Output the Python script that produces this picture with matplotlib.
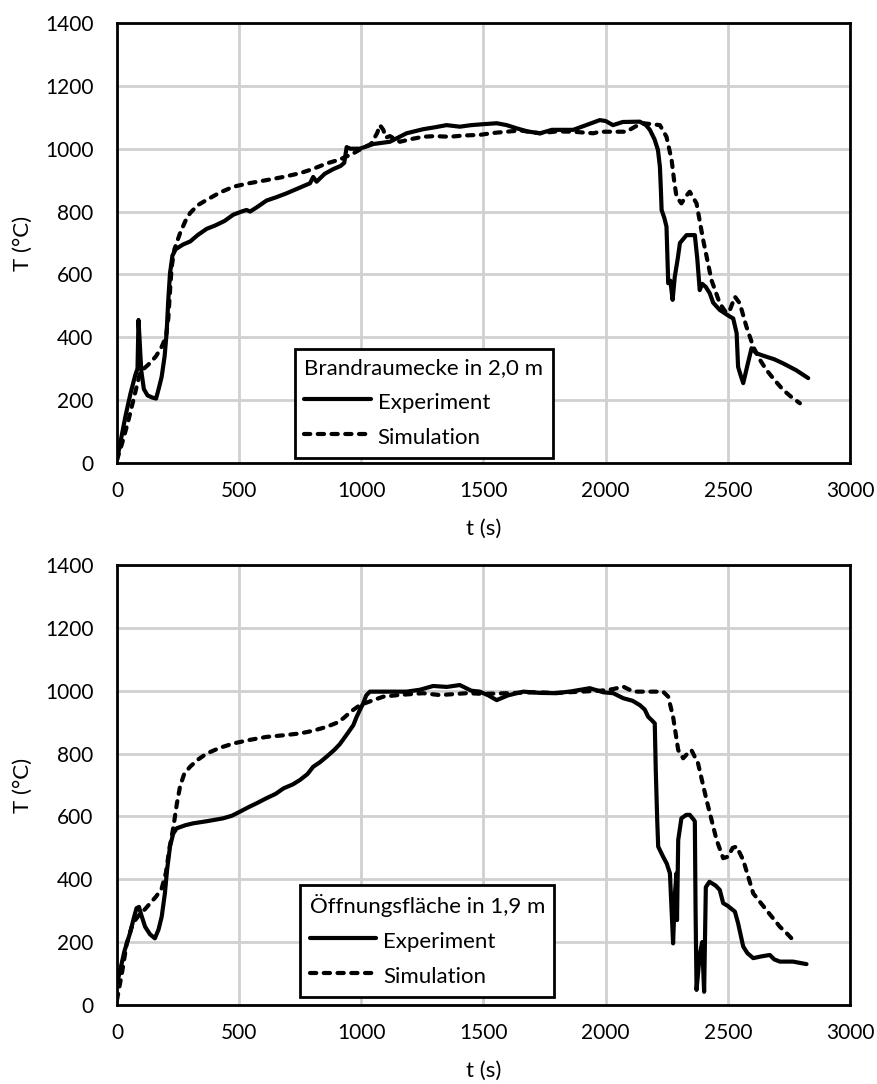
import numpy as np
import matplotlib
matplotlib.use("Agg")
import matplotlib.pyplot as plt

plt.rcParams['font.family'] = ['Lato', 'DejaVu Sans']

# Brandraumecke in 2,0 m - Experiment
t_exp_1 = [0, 15, 35, 55, 75, 84, 88, 92, 96, 100, 110, 125, 145, 160, 172, 183, 195, 203, 210, 217,
           227, 240, 270, 300, 330, 367, 400, 440, 476, 510, 530, 545, 575, 612, 650, 694, 730, 760, 790, 803,
           817, 850, 885, 915, 930, 940, 955, 994, 1050, 1117, 1185, 1253, 1300, 1349, 1403, 1450, 1500, 1554, 1595, 1635,
           1680, 1731, 1780, 1867, 1920, 1976, 2000, 2030, 2070, 2140, 2165, 2181, 2200, 2214, 2222, 2226, 2229, 2240, 2249, 2253,
           2256, 2265, 2274, 2283, 2295, 2304, 2331, 2365, 2375, 2385, 2395, 2410, 2426, 2440, 2467, 2490, 2508, 2522, 2536, 2542,
           2552, 2563, 2580, 2597, 2617, 2650, 2690, 2726, 2780, 2829]
T_exp_1 = [10, 70, 150, 220, 280, 300, 455, 400, 340, 290, 235, 215, 208, 205, 240, 275, 340, 413, 520, 604,
           660, 680, 695, 705, 725, 745, 755, 770, 790, 800, 805, 800, 815, 835, 845, 858, 870, 880, 890, 910,
           895, 920, 935, 945, 955, 1005, 1000, 1000, 1015, 1022, 1049, 1062, 1068, 1075, 1070, 1075, 1078, 1081, 1075, 1065,
           1055, 1049, 1060, 1060, 1075, 1091, 1088, 1075, 1085, 1086, 1075, 1060, 1030, 996, 943, 870, 805, 780, 752, 650,
           572, 580, 519, 593, 650, 700, 725, 725, 650, 550, 570, 560, 540, 510, 487, 475, 466, 460, 413, 306,
           280, 254, 310, 365, 349, 340, 330, 317, 295, 270]

# Brandraumecke in 2,0 m - Simulation
t_sim_1 = [0, 20, 45, 67, 94, 110, 135, 160, 183, 200, 210, 218, 224, 235, 258, 280, 299, 330, 367, 420,
           476, 540, 612, 680, 749, 800, 858, 910, 967, 1000, 1040, 1065, 1076, 1090, 1100, 1117, 1158, 1200, 1253, 1300,
           1362, 1420, 1485, 1540, 1594, 1650, 1731, 1800, 1867, 1949, 1976, 2045, 2085, 2120, 2154, 2222, 2249, 2270, 2280, 2290,
           2310, 2330, 2344, 2372, 2385, 2399, 2433, 2467, 2494, 2510, 2529, 2549, 2576, 2604, 2630, 2658, 2690, 2727, 2760, 2795]
T_sim_1 = [10, 60, 130, 200, 286, 300, 318, 340, 370, 400, 460, 560, 625, 680, 731, 770, 795, 820, 837, 860,
           879, 890, 900, 910, 922, 935, 953, 965, 985, 1000, 1015, 1050, 1075, 1060, 1035, 1040, 1022, 1030, 1038, 1040,
           1038, 1042, 1044, 1050, 1054, 1058, 1049, 1055, 1054, 1049, 1054, 1054, 1054, 1070, 1081, 1075, 1038, 964, 900, 847,
           826, 850, 863, 826, 770, 710, 582, 508, 477, 490, 529, 508, 434, 370, 330, 296, 265, 232, 210, 190]

# Öffnungsfläche in 1,9 m - Experiment
t_exp_2 = [0, 10, 30, 53, 70, 80, 90, 100, 115, 135, 155, 170, 183, 196, 205, 217, 230, 244, 280, 312,
           370, 435, 470, 503, 540, 572, 612, 650, 681, 720, 749, 780, 803, 830, 858, 890, 912, 940, 967, 981,
           995, 1008, 1020, 1035, 1100, 1185, 1240, 1294, 1350, 1403, 1450, 1485, 1520, 1554, 1600, 1663, 1730, 1799, 1860, 1935,
           1990, 2031, 2072, 2110, 2140, 2160, 2174, 2190, 2201, 2205, 2211, 2215, 2235, 2250, 2263, 2270, 2276, 2283, 2290, 2292,
           2297, 2310, 2330, 2344, 2360, 2365, 2368, 2372, 2385, 2395, 2403, 2410, 2425, 2450, 2467, 2481, 2500, 2529, 2542, 2563,
           2580, 2604, 2640, 2672, 2690, 2713, 2767, 2822]
T_exp_2 = [70, 100, 170, 228, 280, 308, 312, 285, 249, 225, 212, 240, 281, 355, 430, 504, 545, 562, 572, 578,
           585, 594, 602, 615, 630, 642, 658, 672, 689, 702, 716, 735, 758, 772, 790, 812, 830, 860, 890, 917,
           940, 960, 985, 997, 997, 997, 1003, 1015, 1012, 1018, 1000, 997, 985, 970, 985, 997, 993, 992, 998, 1008,
           995, 992, 976, 968, 954, 940, 917, 905, 896, 750, 589, 504, 472, 450, 419, 300, 196, 350, 419, 270,
           525, 594, 605, 605, 590, 584, 300, 48, 160, 200, 42, 375, 392, 380, 366, 324, 315, 297, 260, 186,
           165, 149, 155, 159, 145, 138, 138, 130]

# Öffnungsfläche in 1,9 m - Simulation
t_sim_2 = [0, 20, 40, 65, 94, 115, 135, 160, 183, 200, 215, 231, 245, 258, 275, 299, 330, 367, 420, 476,
           540, 612, 680, 749, 800, 858, 900, 926, 960, 994, 1049, 1090, 1150, 1253, 1321, 1431, 1500, 1600, 1700, 1800,
           1900, 1980, 2030, 2072, 2113, 2235, 2256, 2276, 2297, 2317, 2335, 2351, 2378, 2413, 2454, 2481, 2501, 2520, 2536, 2563,
           2604, 2658, 2713, 2745, 2774]
T_sim_2 = [16, 100, 196, 260, 290, 305, 323, 345, 371, 420, 500, 567, 640, 695, 735, 758, 780, 800, 818, 832,
           843, 853, 858, 864, 872, 885, 898, 912, 935, 954, 970, 981, 986, 992, 986, 992, 990, 992, 995, 993,
           997, 1000, 1005, 1013, 997, 997, 981, 917, 811, 785, 800, 811, 769, 652, 525, 467, 472, 500, 504, 461,
           355, 302, 249, 225, 201]

legend_titles = ["Brandraumecke in 2,0 m", "Öffnungsfläche in 1,9 m"]
x_ticks = np.arange(0, 3001, 500)
y_ticks = np.arange(0, 1401, 200)

fig = plt.figure(figsize=(8.77, 10.84), dpi=100)
ax1 = fig.add_axes([0.1334, 0.5729, 0.8358, 0.4059])
ax2 = fig.add_axes([0.1334, 0.0729, 0.8358, 0.4059])

panels = [
    (ax1, t_exp_1, T_exp_1, t_sim_1, T_sim_1, legend_titles[0], (0.243, 0.011)),
    (ax2, t_exp_2, T_exp_2, t_sim_2, T_sim_2, legend_titles[1], (0.250, 0.018)),
]

for ax, te, Te, ts, Ts, title, anchor in panels:
    ax.plot(te, Te, color='black', lw=3.0, solid_joinstyle='round', solid_capstyle='round', label='Experiment')
    ax.plot(ts, Ts, color='black', lw=3.0, dashes=(1.5, 1.8), dash_capstyle='round', label='Simulation')

    ax.set_xlim(0, 3000)
    ax.set_ylim(0, 1400)
    ax.set_xticks(x_ticks)
    ax.set_yticks(y_ticks)
    ax.grid(True, color='#d0d0d0', lw=2.0)
    ax.set_axisbelow(True)
    ax.tick_params(length=0, labelsize=15, pad=13)
    ax.tick_params(axis='y', pad=17)
    for s in ax.spines.values():
        s.set_linewidth(2.0)
        s.set_color('black')

    ax.set_xlabel('t (s)', fontsize=16, labelpad=13)
    ax.set_ylabel('T (°C)', fontsize=16, labelpad=9)

    # legend box: narrow side padding, taller entry rows
    leg = ax.legend(title=title, loc='lower left', bbox_to_anchor=anchor,
                    fontsize=16, title_fontsize=16, alignment='left',
                    handlelength=3.0, handleheight=1.3, handletextpad=0.3, labelspacing=0.5,
                    borderpad=0.42, borderaxespad=0, frameon=True, fancybox=False, framealpha=1)
    leg.get_frame().set_edgecolor('black')
    leg.get_frame().set_linewidth(2.0)

plt.savefig('out.png', dpi=100)
